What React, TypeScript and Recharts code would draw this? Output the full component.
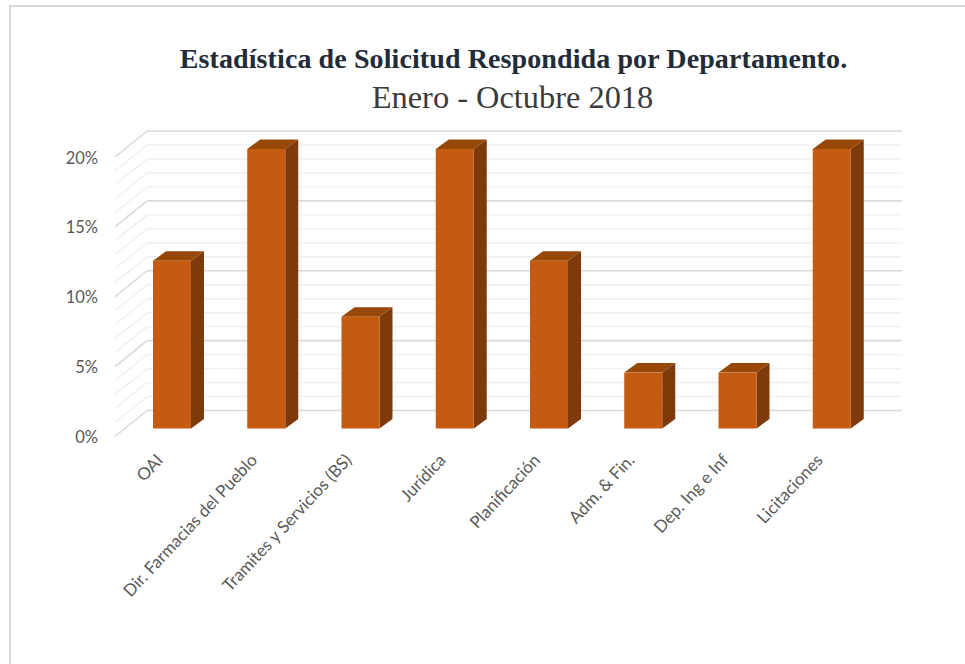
import React from 'react';
import { BarChart, Bar, XAxis, YAxis, CartesianGrid } from 'recharts';

const categories = ['OAI', 'Dir. Farmacias del Pueblo', 'Tramites y Servicios (BS)', 'Jurídica', 'Planificación', 'Adm. & Fin.', 'Dep. Ing e Inf', 'Licitaciones'];
const values = [12, 20, 8, 20, 12, 4, 4, 20];
const gridTicks = [0, 1, 2, 3, 4, 5, 6, 7, 8, 9, 10, 11, 12, 13, 14, 15, 16, 17, 18, 19, 20];
const titleLine = 'Estadística de Solicitud Respondida por Departamento.';
const subtitleLine = 'Enero - Octubre 2018';

const data = categories.map((name, i) => ({ name, value: values[i] }));

const DX = 13;
const DY = 9.5;

const Box3D = (props: any) => {
  const { x, y, width, height } = props;
  const r = x + width;
  const b = y + height;
  return (
    <g>
      <path d={`M${x},${y} L${x + DX},${y - DY} L${r + DX},${y - DY} L${r},${y} Z`} fill="#974706" />
      <path d={`M${r},${y} L${r + DX},${y - DY} L${r + DX},${b - DY} L${r},${b} Z`} fill="#7F3A0B" />
      <rect x={x} y={y} width={width} height={height} fill="#C55A11" />
    </g>
  );
};

const GridLine = (props: any) => {
  const { x1, x2, y1, index } = props;
  const major = index % 5 === 0;
  const stroke = major ? '#DADADA' : '#F0F0F0';
  const w = major ? 1.6 : 1.4;
  const backY = y1 - 18;
  return (
    <g key={`g-${index}`}>
      <line x1={x1 - 10} y1={y1 + 8} x2={x1 + 22} y2={backY} stroke={stroke} strokeWidth={w} />
      <line x1={x1 + 22} y1={backY} x2={x2 + 23} y2={backY} stroke={stroke} strokeWidth={w} />
    </g>
  );
};

const YTick = (props: any) => {
  const { y, payload } = props;
  if (payload.value % 5 !== 0) return <g />;
  return (
    <text x={98} y={y + 8} dy={6.5} textAnchor="end" fontFamily="Lato, sans-serif" fontSize={16.5} fill="#595959">
      {`${payload.value}%`}
    </text>
  );
};

const XTick = (props: any) => {
  const { x, payload } = props;
  const ax = x - 8;
  const ay = 461;
  return (
    <text x={ax} y={ay} textAnchor="end" transform={`rotate(-47 ${ax} ${ay})`} fontFamily="Lato, sans-serif" fontSize={17} fill="#595959">
      {payload.value}
    </text>
  );
};

export default function App() {
  return (
    <div style={{ position: 'absolute', left: 0, top: 0, width: 965, height: 664, background: '#fff', overflow: 'hidden' }}>
      <div style={{ position: 'absolute', left: 9, top: 5, width: 960, height: 670, borderTop: '2px solid #DADADA', borderLeft: '2px solid #DADADA', boxSizing: 'border-box' }} />
      <div style={{ position: 'absolute', left: 0, top: 42, width: 1027, textAlign: 'center', fontFamily: '"Liberation Serif", serif', fontWeight: 700, fontSize: 28, letterSpacing: 0.1, lineHeight: '34px', color: '#222B38', whiteSpace: 'nowrap' }}>
        {titleLine}
      </div>
      <div style={{ position: 'absolute', left: 0, top: 77, width: 1025, textAlign: 'center', fontFamily: '"Liberation Serif", serif', fontSize: 32.4, lineHeight: '40px', color: '#3A3A3A', whiteSpace: 'nowrap' }}>
        {subtitleLine}
      </div>
      <div style={{ position: 'absolute', left: 0, top: 0 }}>
        <BarChart width={965} height={664} data={data} margin={{ top: 149, right: 86, bottom: 205.5, left: 85 }} barSize={38}>
          <CartesianGrid vertical={false} horizontal={GridLine as any} />
          <XAxis dataKey="name" height={30} axisLine={false} tickLine={false} interval={0} tick={XTick as any} />
          <YAxis width={40} domain={[0, 20]} ticks={gridTicks} interval={0} axisLine={false} tickLine={false} tick={YTick as any} />
          <Bar dataKey="value" isAnimationActive={false} shape={Box3D as any} />
        </BarChart>
      </div>
    </div>
  );
}
